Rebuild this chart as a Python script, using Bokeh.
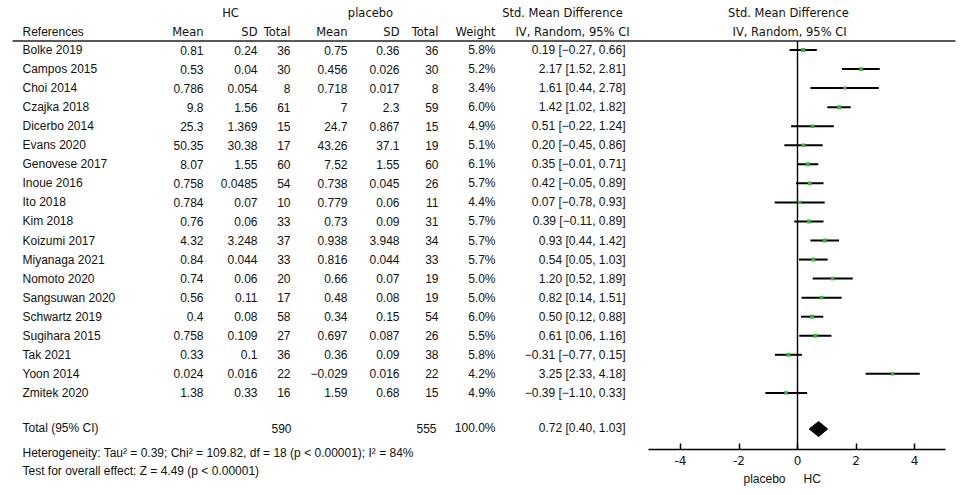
from bokeh.plotting import figure
from bokeh.models import Range1d, FixedTicker, ColumnDataSource
from bokeh.core.properties import value
from bokeh.embed import file_html
from bokeh.resources import INLINE

studies = ["Bolke 2019", "Campos 2015", "Choi 2014", "Czajka 2018", "Dicerbo 2014",
           "Evans 2020", "Genovese 2017", "Inoue 2016", "Ito 2018", "Kim 2018",
           "Koizumi 2017", "Miyanaga 2021", "Nomoto 2020", "Sangsuwan 2020",
           "Schwartz 2019", "Sugihara 2015", "Tak 2021", "Yoon 2014", "Zmitek 2020"]
hc_mean = [0.81, 0.53, 0.786, 9.8, 25.3, 50.35, 8.07, 0.758, 0.784, 0.76, 4.32,
           0.84, 0.74, 0.56, 0.4, 0.758, 0.33, 0.024, 1.38]
hc_sd = [0.24, 0.04, 0.054, 1.56, 1.369, 30.38, 1.55, 0.0485, 0.07, 0.06, 3.248,
         0.044, 0.06, 0.11, 0.08, 0.109, 0.1, 0.016, 0.33]
hc_total = [36, 30, 8, 61, 15, 17, 60, 54, 10, 33, 37, 33, 20, 17, 58, 27, 36, 22, 16]
pl_mean = [0.75, 0.456, 0.718, 7, 24.7, 43.26, 7.52, 0.738, 0.779, 0.73, 0.938,
           0.816, 0.66, 0.48, 0.34, 0.697, 0.36, -0.029, 1.59]
pl_sd = [0.36, 0.026, 0.017, 2.3, 0.867, 37.1, 1.55, 0.045, 0.06, 0.09, 3.948,
         0.044, 0.07, 0.08, 0.15, 0.087, 0.09, 0.016, 0.68]
pl_total = [36, 30, 8, 59, 15, 19, 60, 26, 11, 31, 34, 33, 19, 19, 54, 26, 38, 22, 15]
weight = [5.8, 5.2, 3.4, 6.0, 4.9, 5.1, 6.1, 5.7, 4.4, 5.7, 5.7, 5.7, 5.0, 5.0,
          6.0, 5.5, 5.8, 4.2, 4.9]
smd = [0.19, 2.17, 1.61, 1.42, 0.51, 0.20, 0.35, 0.42, 0.07, 0.39, 0.93, 0.54,
       1.20, 0.82, 0.50, 0.61, -0.31, 3.25, -0.39]
ci_lo = [-0.27, 1.52, 0.44, 1.02, -0.22, -0.45, -0.01, -0.05, -0.78, -0.11, 0.44,
         0.05, 0.52, 0.14, 0.12, 0.06, -0.77, 2.33, -1.10]
ci_hi = [0.66, 2.81, 2.78, 1.82, 1.24, 0.86, 0.71, 0.89, 0.93, 0.89, 1.42, 1.03,
         1.89, 1.51, 0.88, 1.16, 0.15, 4.18, 0.33]
total_hc = 590
total_pl = 555
total_weight = 100.0
pooled = 0.72
pooled_lo = 0.40
pooled_hi = 1.03
ticks = [-4, -2, 0, 2, 4]
heterogeneity = "Heterogeneity: Tau\u00b2 = 0.39; Chi\u00b2 = 109.82, df = 18 (p < 0.00001); I\u00b2 = 84%"
overall = "Test for overall effect: Z = 4.49 (p < 0.00001)"

MINUS = "\u2212"


def g(v):
    return ("%g" % v).replace("-", MINUS)


def f2(v):
    return ("%.2f" % v).replace("-", MINUS)


ROW0, STEP = 49.5, 19.05
ys = [ROW0 + STEP * i for i in range(len(studies))]
Y_TOTAL = 428.5
AXIS_Y = 449
BODY = value("Liberation Sans")
HEAD = value("DejaVu Sans")

W, H = 963, 490
ZERO_PX, UNIT_PX = 797.0, 29.25

p = figure(frame_width=W, frame_height=H,
           x_range=Range1d(-ZERO_PX / UNIT_PX, (W - ZERO_PX) / UNIT_PX),
           y_range=Range1d(H, 0), output_backend="svg", toolbar_location=None,
           y_axis_location=None, x_axis_location="below", min_border=0)
p.extra_x_ranges = {"tbl": Range1d(0, W)}
p.grid.visible = False
p.outline_line_color = None


def txt(x, y, t, align, font=BODY, size="12px", rng="tbl"):
    src = ColumnDataSource(dict(x=x, y=y, t=t))
    kw = dict(x_range_name=rng) if rng else {}
    p.text(x="x", y="y", text="t", source=src, text_align=align,
           text_baseline="middle", text_font=font, text_font_size=size,
           text_color="#111111", **kw)


# ---------- table headers ----------
txt([230, 370, 562], [12, 12, 12], ["HC", "placebo", "Std. Mean Difference"],
    "center", HEAD, "11.5px")
txt([22], [31], ["References"], "left")
txt([203, 257, 290, 347, 399, 438, 495], [31] * 7,
    ["Mean", "SD", "Total", "Mean", "SD", "Total", "Weight"], "right", HEAD, "11.5px")
txt([572], [31], ["IV, Random, 95% CI"], "center", HEAD, "11.5px")
txt([-0.31, -0.27], [12, 31], ["Std. Mean Difference", "IV, Random, 95% CI"],
    "center", HEAD, "11.5px", rng=None)
p.segment(x0=[12], y0=[40.5], x1=[955], y1=[40.5], line_color="#222222",
          line_width=1.6, x_range_name="tbl")

# ---------- table rows ----------
txt([22] * len(ys), ys, studies, "left")
cols = [(203, [g(v) for v in hc_mean]), (257, [g(v) for v in hc_sd]),
        (290, [str(v) for v in hc_total]), (347, [g(v) for v in pl_mean]),
        (399, [g(v) for v in pl_sd]), (438, [str(v) for v in pl_total]),
        (495, ["%.1f%%" % w for w in weight]),
        (625, ["%s [%s, %s]" % (f2(a), f2(b), f2(c)) for a, b, c in zip(smd, ci_lo, ci_hi)])]
for xpos, vals in cols:
    txt([xpos] * len(vals), ys, vals, "right")

txt([22], [Y_TOTAL - 1], ["Total (95% CI)"], "left")
txt([291, 436, 495, 625], [Y_TOTAL - 1] * 4,
    [str(total_hc), str(total_pl), "%.1f%%" % total_weight,
     "%s [%s, %s]" % (f2(pooled), f2(pooled_lo), f2(pooled_hi))], "right")
txt([22, 22], [452, 470.5], [heterogeneity, overall], "left")

# favours labels under the axis
txt([785], [478], ["placebo"], "right")
txt([803], [478], ["HC"], "left")

# ---------- forest ----------
p.segment(x0=[0], y0=[40.5], x1=[0], y1=[AXIS_Y], line_color="black", line_width=1.4)
p.segment(x0=ci_lo, y0=ys, x1=ci_hi, y1=ys, line_color="black", line_width=2)
p.scatter(x=smd, y=ys, marker="square", size=[1.6 + 0.4 * w for w in weight],
          fill_color="#33b833", line_color=None)
p.patch(x=[pooled_lo, pooled, pooled_hi, pooled],
        y=[Y_TOTAL, Y_TOTAL - 7.5, Y_TOTAL, Y_TOTAL + 7.5], fill_color="black",
        line_color="black")

ax = p.xaxis[0]
ax.fixed_location = AXIS_Y
ax.ticker = FixedTicker(ticks=ticks)
ax.bounds = (-5.1, 5.06)
ax.major_label_overrides = {t: str(t) for t in ticks}
ax.minor_tick_line_color = None
ax.major_tick_in = 6
ax.major_tick_out = 0
ax.axis_line_width = 1.5
ax.major_tick_line_width = 1.5
ax.axis_line_color = "black"
ax.major_tick_line_color = "black"
ax.major_label_text_font = "DejaVu Sans"
ax.major_label_text_font_size = "12px"
ax.major_label_text_color = "#111111"
ax.major_label_standoff = 6

open("out.html", "w").write(file_html(p, INLINE))
